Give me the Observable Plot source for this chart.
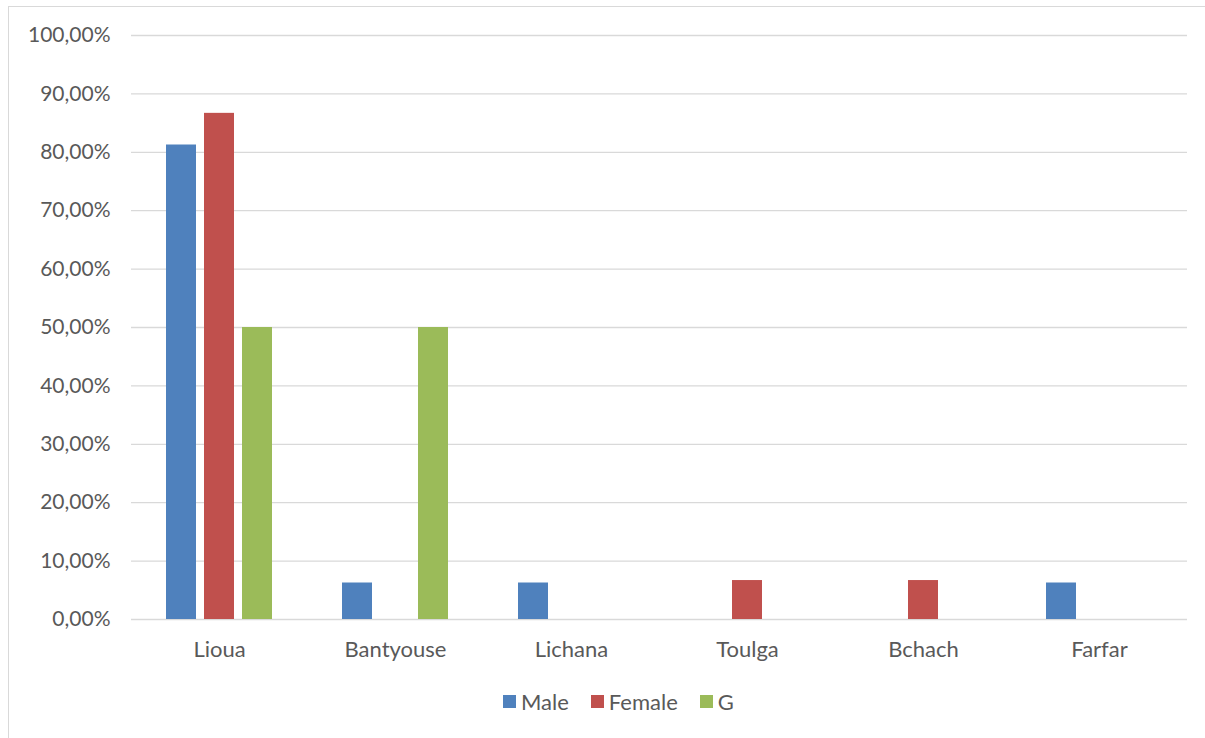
<!DOCTYPE html>
<html>
<head>
<meta charset="utf-8">
<script src="https://cdn.jsdelivr.net/npm/d3@7"></script>
<script src="https://cdn.jsdelivr.net/npm/@observablehq/plot@0.6"></script>
<style>
  html, body { margin: 0; padding: 0; background: #fff; }
  #wrap { position: relative; width: 1205px; height: 738px; overflow: hidden; font-family: Lato, "Open Sans", sans-serif; }
  #frame { position: absolute; left: 8px; top: 6px; width: 1300px; height: 900px; border-left: 1px solid #d9d9d9; border-top: 1px solid #d9d9d9; }
  #chart { position: absolute; left: 0; top: 0; }
  #legend { position: absolute; left: 503px; top: 688px; height: 26px; display: flex; align-items: center; font-size: 22px; color: #595959; }
  #legend .item { display: flex; align-items: center; margin-right: 22px; }
  #legend .sw { width: 13px; height: 13px; margin-right: 5px; }
</style>
</head>
<body>
<div id="wrap">
  <div id="frame"></div>
  <div id="chart"></div>
  <div id="legend"></div>
</div>
<script>
const categories = ["Lioua", "Bantyouse", "Lichana", "Toulga", "Bchach", "Farfar"];
const seriesNames = ["Male", "Female", "G"];
const male   = [0.8125, 0.0625, 0.0625, 0, 0, 0.0625];
const female = [0.8667, 0, 0, 0.0667, 0.0667, 0];
const gVals  = [0.5, 0.5, 0, 0, 0, 0];
const yTicks = [0, 0.1, 0.2, 0.3, 0.4, 0.5, 0.6, 0.7, 0.8, 0.9, 1.0];
const colors = ["#4F81BD", "#C0504D", "#9BBB59"];

const seriesValues = [male, female, gVals];
const data = [];
categories.forEach((c, i) => {
  seriesNames.forEach((s, j) => {
    const v = seriesValues[j][i];
    if (v > 0) data.push({category: c, series: s, value: v});
  });
});

const fmt = d => (d * 100).toFixed(2).replace(".", ",") + "%";

const chart = Plot.plot({
  width: 1205,
  height: 690,
  marginLeft: 130,
  marginRight: 17,
  marginTop: 35,
  marginBottom: 71,
  style: { fontFamily: "Lato, 'Open Sans', sans-serif", fontSize: "21px", color: "#595959", background: "transparent" },
  fx: { domain: categories, padding: 0, label: null, axis: "bottom", tickSize: 0, tickPadding: 22 },
  x: { domain: seriesNames, type: "band", paddingInner: 0.208, paddingOuter: 0.892, axis: null },
  y: { domain: [0, 1], ticks: yTicks, tickFormat: fmt, tickSize: 0, tickPadding: 21, label: null },
  color: { domain: seriesNames, range: colors },
  marks: [
    Plot.gridY(yTicks, { stroke: "#d9d9d9", strokeOpacity: 1, strokeWidth: 1.3 }),
    Plot.barY(data, { fx: "category", x: "series", y: "value", fill: "series" })
  ]
});
chart.querySelectorAll("[aria-label='fx-axis tick label']").forEach(g => g.style.fontSize = "22px");
document.getElementById("chart").appendChild(chart);

const legend = document.getElementById("legend");
seriesNames.forEach((s, i) => {
  const item = document.createElement("div");
  item.className = "item";
  const sw = document.createElement("div");
  sw.className = "sw";
  sw.style.background = colors[i];
  const lab = document.createElement("span");
  lab.textContent = s;
  item.appendChild(sw);
  item.appendChild(lab);
  legend.appendChild(item);
});
</script>
</body>
</html>
